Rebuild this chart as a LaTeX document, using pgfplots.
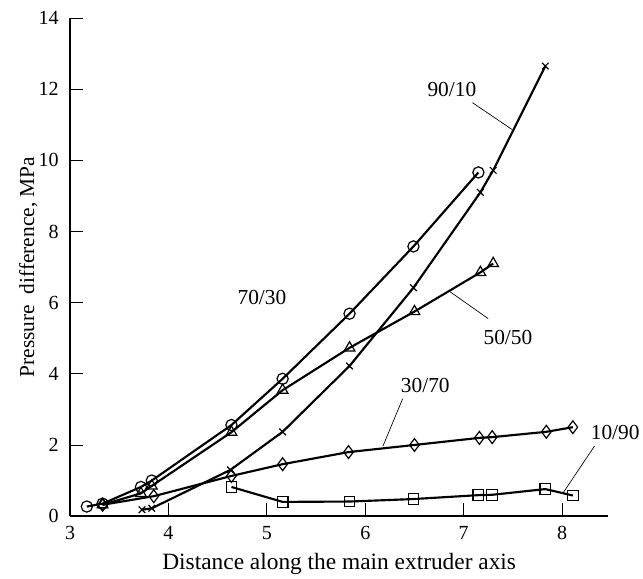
\documentclass[border=0pt]{standalone}
\usepackage{fontspec}
\setmainfont{Liberation Serif}
\usepackage{pgfplots}
\pgfplotsset{compat=1.18}
\tikzset{
  lab/.style={font=\fontsize{16}{19}\selectfont, inner sep=0pt},
  lead/.style={draw=black, line width=0.5pt}
}
\begin{document}
\begin{tikzpicture}
\begin{axis}[
  scale only axis,
  width=403pt, height=373pt,
  xmin=3, xmax=8.47, ymin=0, ymax=14,
  axis lines*=left,
  axis line style={line width=1.4pt},
  xtick={3,4,5,6,7,8}, ytick={0,2,4,6,8,10,12,14},
  xticklabels={3,4,5,6,7,8},
  yticklabels={0,2,4,6,8,10,12,14},
  tick align=inside, major tick length=10pt,
  tick style={line width=0.7pt, black},
  tick label style={font=\fontsize{15}{17}\selectfont},
  xticklabel style={yshift=-4pt},
  yticklabel style={xshift=-5pt},
  xlabel={Distance along the main extruder axis},
  ylabel={Pressure\ \ difference,\ MPa},
  label style={font=\fontsize{16}{19}\selectfont},
  xlabel style={yshift=-3pt, font=\fontsize{17.5}{20}\selectfont},
  ylabel style={yshift=-6pt},
  every axis plot/.append style={black, line width=1.6pt,
    mark options={solid, fill=white, line width=0.9pt}},
  clip=false
]
% 70/30
\addplot[mark=o, mark size=4.2pt] coordinates {
  (3.17,0.27) (3.33,0.35) (3.72,0.82) (3.83,1.0) (4.64,2.56)
  (5.16,3.86) (5.84,5.69) (6.49,7.58) (7.15,9.66)};
% 50/50
\addplot[mark=triangle, mark size=4.6pt] coordinates {
  (3.33,0.32) (3.72,0.64) (3.83,0.85) (4.64,2.36) (5.16,3.54)
  (5.84,4.73) (6.50,5.75) (7.17,6.85) (7.30,7.10)};
% 90/10
\addplot[mark=x, mark size=3.5pt] coordinates {
  (3.73,0.18) (3.83,0.22) (4.63,1.30) (5.16,2.37) (5.84,4.22)
  (6.49,6.42) (7.17,9.10) (7.30,9.72) (7.83,12.65)};
% 30/70
\addplot[mark=diamond, mark size=4.8pt] coordinates {
  (3.33,0.32) (3.85,0.56) (4.64,1.13) (5.16,1.46) (5.83,1.80)
  (6.50,2.00) (7.16,2.20) (7.29,2.22) (7.84,2.37) (8.11,2.50)};
% 10/90
\addplot[mark=square, mark size=4pt] coordinates {
  (4.64,0.82) (5.16,0.40) (5.84,0.41) (6.49,0.48) (7.15,0.59)
  (7.29,0.60) (7.83,0.76) (8.11,0.58)};
% series labels
\node[lab] at (axis cs:6.88,12.0) {90/10};
\draw[lead] (axis cs:7.09,11.62) -- (axis cs:7.49,10.87);
\node[lab] at (axis cs:4.95,6.14) {70/30};
\node[lab] at (axis cs:7.45,5.01) {50/50};
\draw[lead] (axis cs:7.25,5.55) -- (axis cs:6.86,6.31);
\node[lab] at (axis cs:6.61,3.66) {30/70};
\draw[lead] (axis cs:6.38,3.30) -- (axis cs:6.18,1.97);
\node[lab] at (axis cs:8.54,2.34) {10/90};
\draw[lead] (axis cs:8.33,1.97) -- (axis cs:8.01,0.65);
% blank margins as in the scan
\path (rel axis cs:0,1) ++(-52.5pt,13.5pt);
\path (rel axis cs:1,0) ++(26pt,-43pt);
\end{axis}
\end{tikzpicture}
\end{document}
